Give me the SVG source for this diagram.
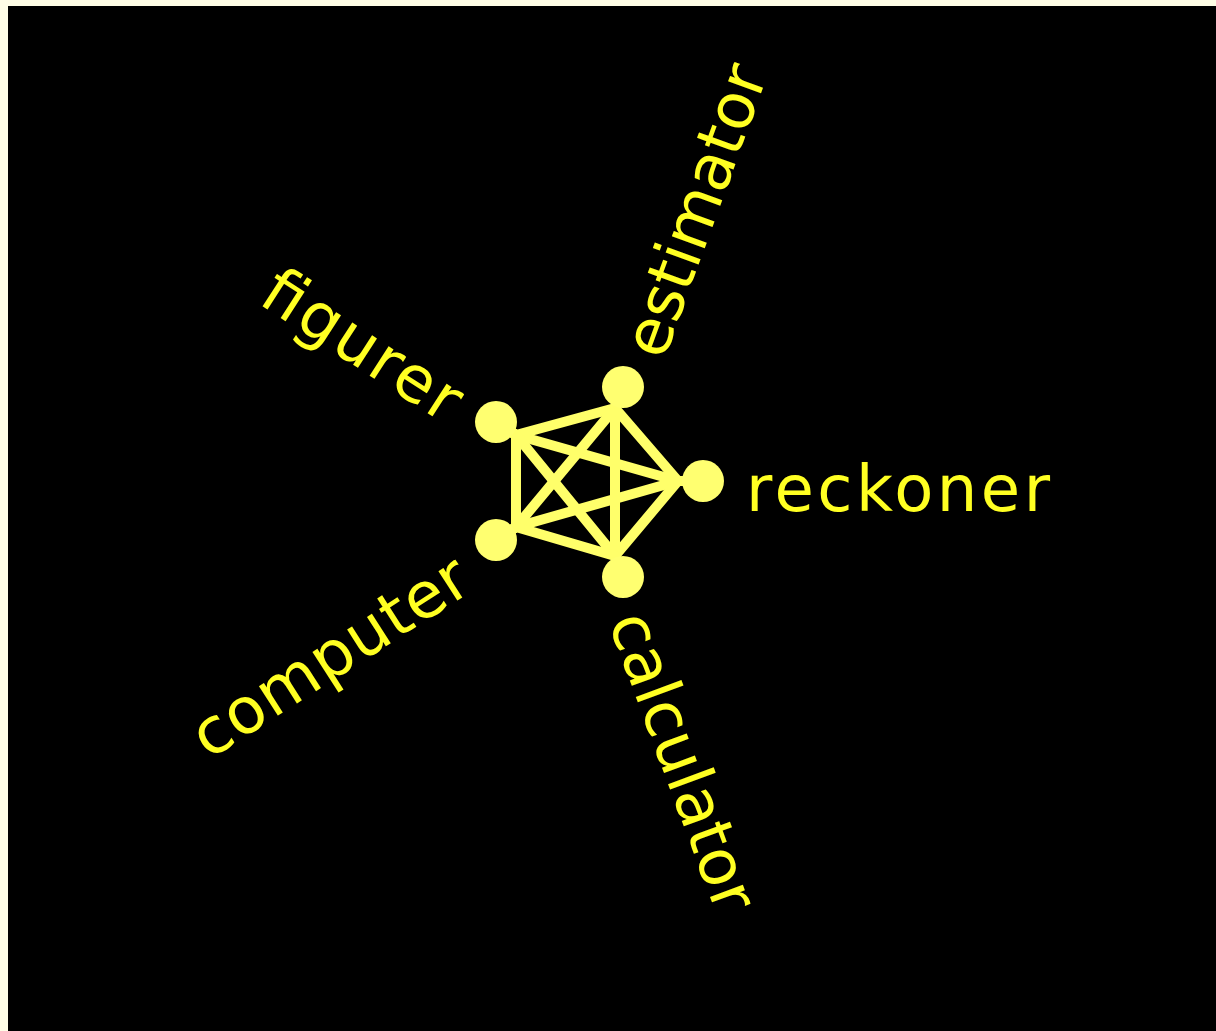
<svg xmlns="http://www.w3.org/2000/svg" width="1216" height="1031" viewBox="0 0 1216 1031">
<style>
.edge{stroke:#ffff6a;stroke-width:10;stroke-linecap:round;stroke-linejoin:round;fill:none}
.node{fill:#ffff70}
.lbl{fill:#ffff22;font-family:"DejaVu Sans","Liberation Sans",sans-serif;font-size:64px}
</style>
<rect x="0" y="0" width="1216" height="1031" fill="#fffde6"/>
<rect x="8" y="6" width="1208" height="1025" fill="#000"/>
<g id="connectors">
<path class="edge" d="M703 481L678 481L615 408L623 387"/>
<path class="edge" d="M703 481L678 481L516 435L496 422"/>
<path class="edge" d="M703 481L678 481L516 527L496 540"/>
<path class="edge" d="M703 481L678 481L615 556L623 577"/>
<path class="edge" d="M623 387L615 408L516 435L496 422"/>
<path class="edge" d="M623 387L615 408L516 527L496 540"/>
<path class="edge" d="M623 387L615 408L615 556L623 577"/>
<path class="edge" d="M496 422L516 435L516 527L496 540"/>
<path class="edge" d="M496 422L516 435L615 556L623 577"/>
<path class="edge" d="M496 540L516 527L615 556L623 577"/>
</g>
<g id="reckoner"><circle class="node" cx="703" cy="481" r="21"/><text class="lbl" transform="translate(588,481)" x="158" y="30" textLength="304" lengthAdjust="spacing">reckoner</text></g>
<g id="estimator"><circle class="node" cx="623" cy="387" r="21"/><text class="lbl" transform="translate(588,481) rotate(-70)" x="138" y="30" textLength="306" lengthAdjust="spacing">estimator</text></g>
<g id="figurer"><circle class="node" cx="496" cy="422" r="21"/><text class="lbl" transform="translate(588,481) rotate(32.9)" x="-375" y="30" textLength="224" lengthAdjust="spacing">figurer</text></g>
<g id="computer"><circle class="node" cx="496" cy="540" r="21"/><text class="lbl" transform="translate(588,481) rotate(-32.7)" x="-470" y="30" textLength="316" lengthAdjust="spacing">computer</text></g>
<g id="calculator"><circle class="node" cx="623" cy="577" r="21"/><text class="lbl" transform="translate(588,481) rotate(69.7)" x="139" y="30" textLength="314" lengthAdjust="spacing">calculator</text></g>
</svg>
